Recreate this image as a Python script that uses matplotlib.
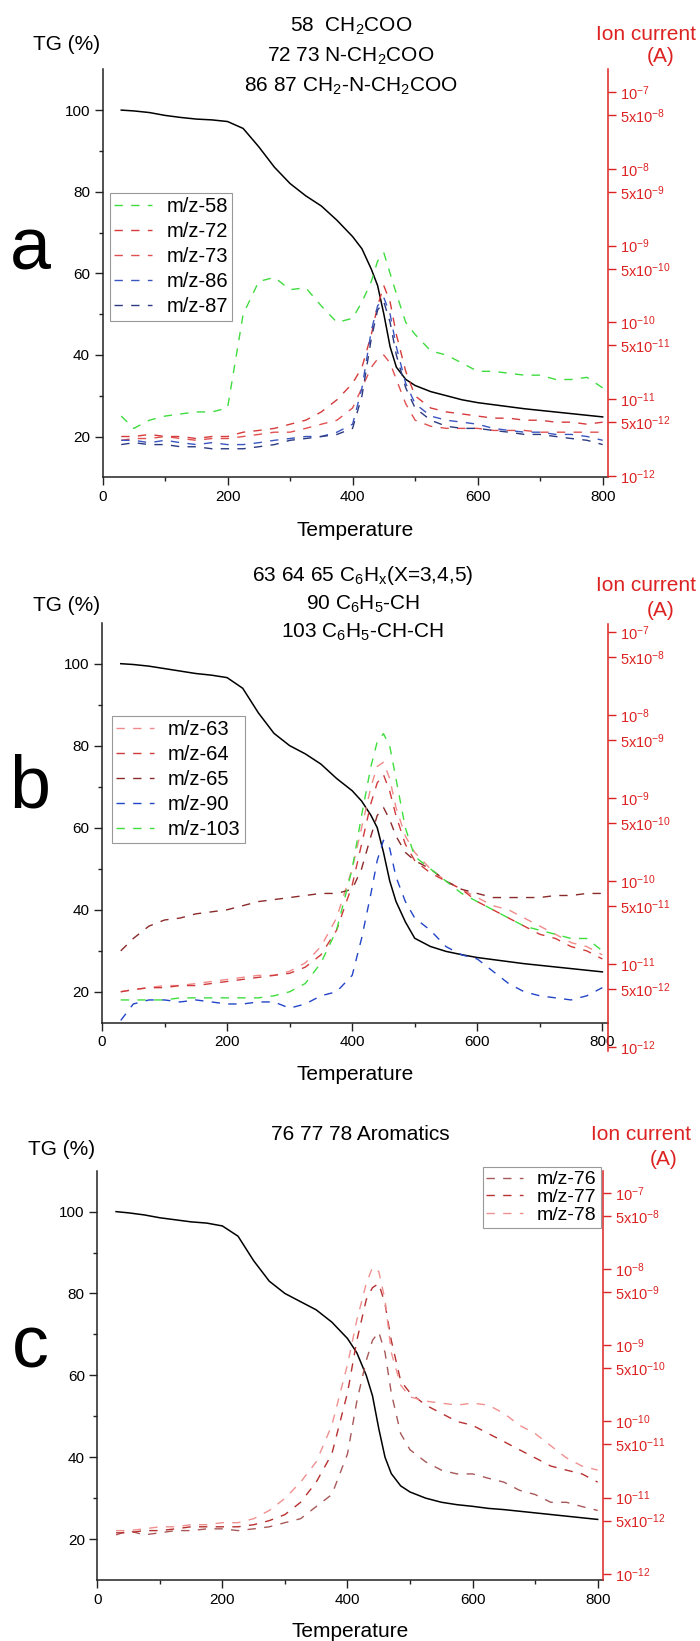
import matplotlib
matplotlib.use('Agg')
import matplotlib.pyplot as plt
from matplotlib.ticker import FixedLocator, FixedFormatter, MultipleLocator, NullLocator

plt.rcParams['font.family'] = ['Liberation Sans', 'DejaVu Sans']
plt.rcParams['mathtext.fontset'] = 'custom'
plt.rcParams['mathtext.rm'] = 'Liberation Sans'
plt.rcParams['mathtext.it'] = 'Liberation Sans:italic'
plt.rcParams['mathtext.bf'] = 'Liberation Sans:bold'

# ---------------- data ----------------
temperature = [30, 50, 75, 100, 125, 150, 175, 200, 225, 250, 275, 300, 325, 350, 375, 400,
               415, 430, 440, 450, 460, 470, 485, 500, 525, 550, 575, 600, 625, 650, 675, 700,
               725, 750, 775, 800]

# panel a
tg_a = [100, 99.8, 99.4, 98.7, 98.2, 97.8, 97.6, 97.2, 95.5, 91, 86, 82, 79, 76.5, 73, 69,
        66, 61, 57, 50, 42, 37, 34, 32.5, 31, 30, 29, 28.3, 27.8, 27.3, 26.8, 26.4, 26, 25.6, 25.2, 24.8]
mz58 = [6.0e-12, 4.15e-12, 5.3e-12, 6.0e-12, 6.4e-12, 6.8e-12, 6.8e-12, 7.65e-12, 1.28e-10, 3.42e-10,
        3.86e-10, 2.67e-10, 2.83e-10, 1.64e-10, 1.0e-10, 1.13e-10, 1.85e-10, 3.42e-10, 6.3e-10, 8.05e-10,
        4.35e-10, 2.37e-10, 1.0e-10, 6.95e-11, 4.25e-11, 3.75e-11, 2.95e-11, 2.3e-11, 2.3e-11, 2.17e-11,
        2.05e-11, 2.05e-11, 1.8e-11, 1.8e-11, 1.92e-11, 1.4e-11]
mz72 = [3.25e-12, 3.25e-12, 3.46e-12, 3.25e-12, 3.25e-12, 3.06e-12, 3.25e-12, 3.25e-12, 3.7e-12, 3.9e-12,
        4.15e-12, 4.7e-12, 5.3e-12, 6.8e-12, 9.8e-12, 1.6e-11, 2.6e-11, 6.95e-11, 1.64e-10, 3.0e-10,
        1.85e-10, 6.95e-11, 2.3e-11, 1.1e-11, 7.65e-12, 6.8e-12, 6.4e-12, 6.0e-12, 5.64e-12, 5.64e-12,
        5.3e-12, 5.3e-12, 5.0e-12, 5.0e-12, 4.7e-12, 5.0e-12]
mz73 = [2.9e-12, 3.06e-12, 3.06e-12, 3.25e-12, 3.06e-12, 2.9e-12, 3.06e-12, 3.06e-12, 3.25e-12, 3.46e-12,
        3.7e-12, 3.7e-12, 4.15e-12, 4.7e-12, 5.3e-12, 7.65e-12, 1.4e-11, 2.6e-11, 3.33e-11, 3.75e-11,
        2.95e-11, 1.8e-11, 8.7e-12, 5.3e-12, 4.42e-12, 4.15e-12, 4.15e-12, 4.15e-12, 3.9e-12, 3.9e-12,
        3.9e-12, 3.7e-12, 3.7e-12, 3.7e-12, 3.7e-12, 3.7e-12]
mz86 = [2.9e-12, 2.9e-12, 2.7e-12, 2.9e-12, 2.7e-12, 2.55e-12, 2.7e-12, 2.55e-12, 2.55e-12, 2.7e-12,
        2.9e-12, 3.06e-12, 3.25e-12, 3.25e-12, 3.7e-12, 4.7e-12, 1.4e-11, 7.85e-11, 1.64e-10, 2.1e-10,
        1.28e-10, 4.8e-11, 1.6e-11, 8.7e-12, 6.0e-12, 5.3e-12, 5.0e-12, 4.7e-12, 4.15e-12, 3.9e-12,
        3.7e-12, 3.7e-12, 3.46e-12, 3.46e-12, 3.25e-12, 2.9e-12]
mz87 = [2.55e-12, 2.7e-12, 2.55e-12, 2.55e-12, 2.39e-12, 2.39e-12, 2.25e-12, 2.25e-12, 2.25e-12, 2.39e-12,
        2.55e-12, 2.9e-12, 3.06e-12, 3.25e-12, 3.46e-12, 4.15e-12, 1.1e-11, 6.2e-11, 1.45e-10, 1.85e-10,
        1.0e-10, 3.75e-11, 1.4e-11, 7.65e-12, 5.3e-12, 4.42e-12, 4.15e-12, 4.15e-12, 3.9e-12, 3.7e-12,
        3.46e-12, 3.46e-12, 3.25e-12, 3.06e-12, 2.9e-12, 2.55e-12]

# panel b
tg_b = [100, 99.8, 99.4, 98.8, 98.2, 97.6, 97.2, 96.6, 94, 88, 83, 80, 78, 75.5, 72, 69,
        66.5, 63, 60, 54, 47, 42, 37, 33, 31, 29.8, 29, 28.3, 27.8, 27.3, 26.8, 26.4, 26, 25.6, 25.2, 24.8]
mz63 = [4.63e-12, 4.91e-12, 5.19e-12, 5.5e-12, 5.5e-12, 5.82e-12, 6.16e-12, 6.52e-12, 6.9e-12, 7.3e-12,
        7.3e-12, 8.18e-12, 1.03e-11, 1.62e-11, 3.58e-11, 1.4e-10, 4.37e-10, 1.36e-9, 2.4e-9, 2.69e-9,
        1.71e-9, 7.7e-10, 3.48e-10, 2.21e-10, 1.4e-10, 9.96e-11, 7.94e-11, 6.32e-11, 5.04e-11, 4.5e-11,
        3.58e-11, 2.86e-11, 2.28e-11, 1.81e-11, 1.62e-11, 1.29e-11]
mz64 = [4.63e-12, 4.91e-12, 5.19e-12, 5.19e-12, 5.5e-12, 5.5e-12, 5.82e-12, 6.16e-12, 6.52e-12, 6.9e-12,
        7.3e-12, 7.73e-12, 9.16e-12, 1.29e-11, 2.55e-11, 8.89e-11, 2.77e-10, 8.63e-10, 1.52e-9, 1.91e-9,
        1.21e-9, 6.14e-10, 2.77e-10, 1.76e-10, 1.25e-10, 9.96e-11, 7.94e-11, 5.65e-11, 4.5e-11, 3.58e-11,
        2.86e-11, 2.28e-11, 2.03e-11, 1.62e-11, 1.44e-11, 1.15e-11]
mz65 = [1.44e-11, 2.03e-11, 2.86e-11, 3.39e-11, 3.58e-11, 4.02e-11, 4.25e-11, 4.5e-11, 5.04e-11, 5.65e-11,
        5.97e-11, 6.32e-11, 6.69e-11, 7.08e-11, 7.08e-11, 7.94e-11, 1.4e-10, 3.48e-10, 6.14e-10, 7.7e-10,
        5.48e-10, 3.48e-10, 2.21e-10, 1.76e-10, 1.4e-10, 9.96e-11, 7.94e-11, 7.08e-11, 6.32e-11, 6.32e-11,
        6.32e-11, 6.32e-11, 6.69e-11, 6.69e-11, 7.08e-11, 7.08e-11]
mz90 = [2.09e-12, 3.3e-12, 3.69e-12, 3.69e-12, 3.49e-12, 3.69e-12, 3.49e-12, 3.3e-12, 3.3e-12, 3.49e-12,
        3.49e-12, 2.94e-12, 3.3e-12, 4.14e-12, 4.63e-12, 7.3e-12, 2.03e-11, 7.08e-11, 1.76e-10, 3.1e-10,
        2.47e-10, 1.12e-10, 5.65e-11, 3.58e-11, 2.55e-11, 1.62e-11, 1.29e-11, 1.15e-11, 8.18e-12, 5.82e-12,
        4.63e-12, 4.14e-12, 3.91e-12, 3.69e-12, 4.14e-12, 5.19e-12]
mz103 = [3.69e-12, 3.69e-12, 3.69e-12, 3.69e-12, 3.91e-12, 3.91e-12, 3.91e-12, 3.91e-12, 3.91e-12, 3.91e-12,
         4.14e-12, 4.63e-12, 5.82e-12, 1.03e-11, 2.55e-11, 1.4e-10, 6.14e-10, 2.4e-9, 4.75e-9, 5.96e-9,
         4.24e-9, 1.71e-9, 4.37e-10, 1.97e-10, 1.4e-10, 9.96e-11, 7.08e-11, 5.65e-11, 4.5e-11, 3.58e-11,
         2.86e-11, 2.55e-11, 2.28e-11, 2.03e-11, 2.03e-11, 1.44e-11]

# panel c
tg_c = [100, 99.7, 99.2, 98.5, 98, 97.5, 97.2, 96.5, 94, 88, 83, 80, 78, 76, 73, 69,
        65.5, 60, 55, 47, 40, 36, 33, 31.5, 30, 29, 28.4, 28, 27.5, 27.2, 26.8, 26.4, 26, 25.6, 25.2, 24.8]
mz76 = [3.25e-12, 3.7e-12, 3.25e-12, 3.46e-12, 3.7e-12, 3.7e-12, 3.9e-12, 3.9e-12, 3.7e-12, 3.9e-12,
        4.15e-12, 4.7e-12, 5.3e-12, 7.65e-12, 1.1e-11, 3.75e-11, 1.85e-10, 6.3e-10, 1.16e-9, 1.49e-9,
        8.05e-10, 2.37e-10, 6.95e-11, 4.25e-11, 2.95e-11, 2.3e-11, 2.05e-11, 2.05e-11, 1.8e-11, 1.6e-11,
        1.25e-11, 1.1e-11, 8.7e-12, 8.7e-12, 7.65e-12, 6.8e-12]
mz77 = [3.46e-12, 3.46e-12, 3.7e-12, 3.7e-12, 3.9e-12, 4.15e-12, 4.15e-12, 4.15e-12, 4.15e-12, 4.42e-12,
        5.0e-12, 6.0e-12, 8.7e-12, 1.6e-11, 3.75e-11, 2.37e-10, 1.16e-9, 3.96e-9, 5.7e-9, 6.45e-9,
        3.5e-9, 1.16e-9, 3.42e-10, 2.37e-10, 1.64e-10, 1.28e-10, 1.0e-10, 8.9e-11, 6.95e-11, 5.45e-11,
        4.25e-11, 3.33e-11, 2.6e-11, 2.3e-11, 2.05e-11, 1.6e-11]
mz78 = [3.7e-12, 3.7e-12, 3.9e-12, 4.15e-12, 4.15e-12, 4.42e-12, 4.42e-12, 4.7e-12, 4.7e-12, 5.3e-12,
        6.8e-12, 9.8e-12, 1.6e-11, 2.95e-11, 8.9e-11, 5.57e-10, 2.15e-9, 6.45e-9, 1.05e-8, 9.3e-9,
        3.96e-9, 8.05e-10, 3.0e-10, 2.1e-10, 1.85e-10, 1.74e-10, 1.64e-10, 1.74e-10, 1.64e-10, 1.28e-10,
        8.9e-11, 6.95e-11, 4.8e-11, 3.33e-11, 2.6e-11, 2.3e-11]

ion_ticks = [1e-12, 5e-12, 1e-11, 5e-11, 1e-10, 5e-10, 1e-9, 5e-9, 1e-8, 5e-8, 1e-7]
ion_tick_labels = [r'$10^{-12}$', r'$5\mathrm{x}10^{-12}$', r'$10^{-11}$', r'$5\mathrm{x}10^{-11}$',
                   r'$10^{-10}$', r'$5\mathrm{x}10^{-10}$', r'$10^{-9}$', r'$5\mathrm{x}10^{-9}$',
                   r'$10^{-8}$', r'$5\mathrm{x}10^{-8}$', r'$10^{-7}$']

panels = [
    dict(letter='a', tg=tg_a,
         series=[(mz58, 'm/z-58', '#3edc3e'), (mz72, 'm/z-72', '#d63a3a'), (mz73, 'm/z-73', '#e05050'),
                 (mz86, 'm/z-86', '#3a55c0'), (mz87, 'm/z-87', '#2c3a80')],
         titles=[r'58  CH$_2$COO', r'72 73 N-CH$_2$COO', r'86 87 CH$_2$-N-CH$_2$COO']),
    dict(letter='b', tg=tg_b,
         series=[(mz63, 'm/z-63', '#f08a8a'), (mz64, 'm/z-64', '#d03a3a'), (mz65, 'm/z-65', '#8b2a2a'),
                 (mz90, 'm/z-90', '#2244c8'), (mz103, 'm/z-103', '#3ede3e')],
         titles=[r'63 64 65 C$_6$H$_\mathrm{x}$(X=3,4,5)', r'90 C$_6$H$_5$-CH', r'103 C$_6$H$_5$-CH-CH']),
    dict(letter='c', tg=tg_c,
         series=[(mz76, 'm/z-76', '#a85858'), (mz77, 'm/z-77', '#b83030'), (mz78, 'm/z-78', '#f09090')],
         titles=['76 77 78 Aromatics']),
]

# ---------------- layout (pixels) ----------------
W, H = 700, 1641
RED = '#dd2222'
fig = plt.figure(figsize=(W / 100, H / 100), dpi=100)

def frect(l, r, t, b):
    return [l / W, 1 - b / H, (r - l) / W, (b - t) / H]

def ftext(x, y, s, **kw):
    fig.text(x / W, 1 - y / H, s, **kw)

layout = [
    dict(box=(102.5, 608.3, 69.3, 477.3), rbox=(69.3, 477.3), ylim=(10, 110),
         rlim=(10 ** -12.02, 10 ** -6.70),
         title_x=351, title_y=[31.7, 61.7, 91.7], tg=(67, 50), ion=(646, 40), amp=(661, 61.7),
         letter=(30, 270), xlab=(355, 535.5),
         leg=dict(loc='upper left', anchor=(110, 193.3), spacing=0.3, fs=14.5)),
    dict(box=(102, 608, 622.7, 1022.7), rbox=(624, 1051), ylim=(12.4, 110),
         rlim=(10 ** -12.048, 10 ** -6.904),
         title_x=363, title_y=[581, 609.5, 638], tg=(67, 611), ion=(646, 591), amp=(661, 616),
         letter=(30, 807), xlab=(355, 1080),
         leg=dict(loc='upper left', anchor=(111.7, 715.7), spacing=0.3, fs=14.5)),
    dict(box=(97.3, 603.3, 1170.7, 1580), rbox=(1170.7, 1580), ylim=(10, 110),
         rlim=(10 ** -12.08, 10 ** -6.71),
         title_x=360, title_y=[1140], tg=(62, 1155), ion=(641, 1140), amp=(664, 1165),
         letter=(30, 1367), xlab=(350, 1637),
         leg=dict(loc='upper right', anchor=(600.5, 1167), spacing=0.0, fs=14)),
]

for p, L in zip(panels, layout):
    l, r, t, b = L['box']
    ax = fig.add_axes(frect(l, r, t, b))
    ax.plot(temperature, p['tg'], color='black', lw=1.1, zorder=3)
    ax.set_xlim(0, 809)
    ax.set_ylim(*L['ylim'])
    ax.xaxis.set_major_locator(MultipleLocator(200))
    ax.xaxis.set_minor_locator(MultipleLocator(100))
    ax.yaxis.set_major_locator(FixedLocator([20, 40, 60, 80, 100]))
    ax.yaxis.set_minor_locator(FixedLocator([30, 50, 70, 90]))
    ax.tick_params(which='major', direction='out', length=5.5, width=1.0, labelsize=11, pad=3.5,
                   color='#222222')
    ax.tick_params(which='minor', direction='out', length=3.2, width=1.0, color='#222222')
    for s in ['top', 'right']:
        ax.spines[s].set_visible(False)
    for s in ['left', 'bottom']:
        ax.spines[s].set_linewidth(1.1)
        ax.spines[s].set_color('#222222')

    rt, rb = L['rbox']
    ax2 = fig.add_axes(frect(l, r, rt, rb))
    ax2.patch.set_visible(False)
    for vals, lab, col in p['series']:
        ax2.plot(temperature, vals, color=col, lw=1.0, ls=(0, (6, 6)), label=lab)
    ax2.set_xlim(0, 809)
    ax2.xaxis.set_visible(False)
    ax2.set_yscale('log')
    ax2.set_ylim(*L['rlim'])
    ax2.yaxis.tick_right()
    ax2.yaxis.set_major_locator(FixedLocator(ion_ticks))
    ax2.yaxis.set_major_formatter(FixedFormatter(ion_tick_labels))
    ax2.yaxis.set_minor_locator(NullLocator())
    ax2.tick_params(axis='y', which='major', direction='out', length=5.5, width=1.0,
                    colors=RED, labelsize=10.5, pad=3)
    for s in ['top', 'left', 'bottom']:
        ax2.spines[s].set_visible(False)
    ax2.spines['right'].set_color(RED)
    ax2.spines['right'].set_linewidth(1.1)

    lg = L['leg']
    anchor = (lg['anchor'][0] / W, 1 - lg['anchor'][1] / H)
    leg = ax2.legend(loc=lg['loc'], bbox_to_anchor=anchor, bbox_transform=fig.transFigure,
                     borderaxespad=0, fontsize=lg['fs'],
                     frameon=True, fancybox=False, edgecolor='#999999', framealpha=1,
                     handlelength=1.9, handletextpad=0.7, borderpad=0.2, labelspacing=lg['spacing'])
    leg.get_frame().set_linewidth(0.8)

    for ty, s in zip(L['title_y'], p['titles']):
        ftext(L['title_x'], ty, s, ha='center', va='baseline', fontsize=15)
    ftext(L['tg'][0], L['tg'][1], 'TG (%)', ha='center', va='baseline', fontsize=15)
    ftext(L['ion'][0], L['ion'][1], 'Ion current', ha='center', va='baseline', fontsize=15, color=RED)
    ftext(L['amp'][0], L['amp'][1], '(A)', ha='center', va='baseline', fontsize=15, color=RED)
    ftext(L['letter'][0], L['letter'][1], p['letter'], ha='center', va='baseline', fontsize=53)
    ftext(L['xlab'][0], L['xlab'][1], 'Temperature', ha='center', va='baseline', fontsize=15)

fig.savefig('out.png', dpi=100)
